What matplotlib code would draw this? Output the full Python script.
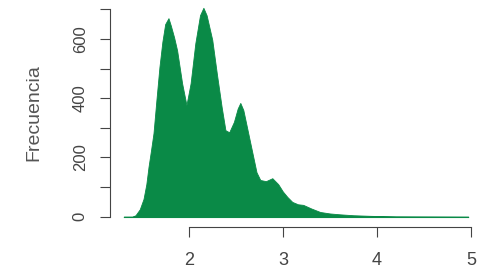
import matplotlib.pyplot as plt

# values (bin centre, count)
x_vals = [1.31, 1.40, 1.435, 1.48, 1.52, 1.55, 1.573, 1.60, 1.626, 1.657, 1.689,
          1.72, 1.75, 1.785, 1.81, 1.845, 1.877, 1.93, 1.976, 2.02, 2.07, 2.12,
          2.156, 2.19, 2.25, 2.30, 2.35, 2.39, 2.43, 2.48, 2.52, 2.548, 2.58,
          2.62, 2.686, 2.72, 2.76, 2.82, 2.888, 2.95, 3.00, 3.047, 3.10, 3.16,
          3.216, 3.30, 3.396, 3.50, 3.61, 3.75, 3.93, 4.20, 4.60, 4.97]
freq = [0, 0, 5, 25, 60, 110, 168, 225, 282, 394, 505,
        590, 650, 670, 645, 605, 561, 450, 377, 450, 585, 680,
        705, 680, 597, 480, 370, 292, 285, 320, 365, 384, 360,
        300, 201, 150, 124, 120, 130, 110, 85, 67, 50, 42,
        40, 28, 16, 11, 8, 5, 3, 1, 0.5, 0]

y_ticks = [0, 100, 200, 300, 400, 500, 600, 700]
y_labels = ['0', '', '200', '', '400', '', '600', '']
x_ticks = [2, 3, 4, 5]

fig = plt.figure(figsize=(4.85, 2.71), dpi=100)
ax = fig.add_axes([0.2268, 0.162, 0.768, 0.842])

ax.fill_between(x_vals, freq, 0, color='#0a8a47', linewidth=0.6,
                edgecolor='#0a8a47')
ax.plot([1.31, 4.97], [0, 0], color='#0a8a47', linewidth=0.8)

ax.set_xlim(1.164, 5.12)
ax.set_ylim(-35, 735)

for side in ['top', 'right']:
    ax.spines[side].set_visible(False)
ax.spines['left'].set_bounds(0, 700)
ax.spines['bottom'].set_bounds(2, 5)
for side in ['left', 'bottom']:
    ax.spines[side].set_color('#444444')
    ax.spines[side].set_linewidth(0.8)

ax.set_yticks(y_ticks)
ax.set_yticklabels(y_labels, rotation=90, va='center')
ax.set_xticks(x_ticks)
ax.set_xticklabels([str(t) for t in x_ticks])
ax.tick_params(colors='#444444', labelcolor='#444444', length=7, width=0.8)
ax.tick_params(axis='y', labelsize=12, pad=9)
ax.tick_params(axis='x', labelsize=13, pad=11)
for lab in ax.get_xticklabels() + ax.get_yticklabels():
    lab.set_family('Liberation Sans')

ax.set_ylabel('Frecuencia', fontsize=14, color='#555555',
              family='Liberation Sans', labelpad=22)

fig.savefig('out.png', dpi=100)
